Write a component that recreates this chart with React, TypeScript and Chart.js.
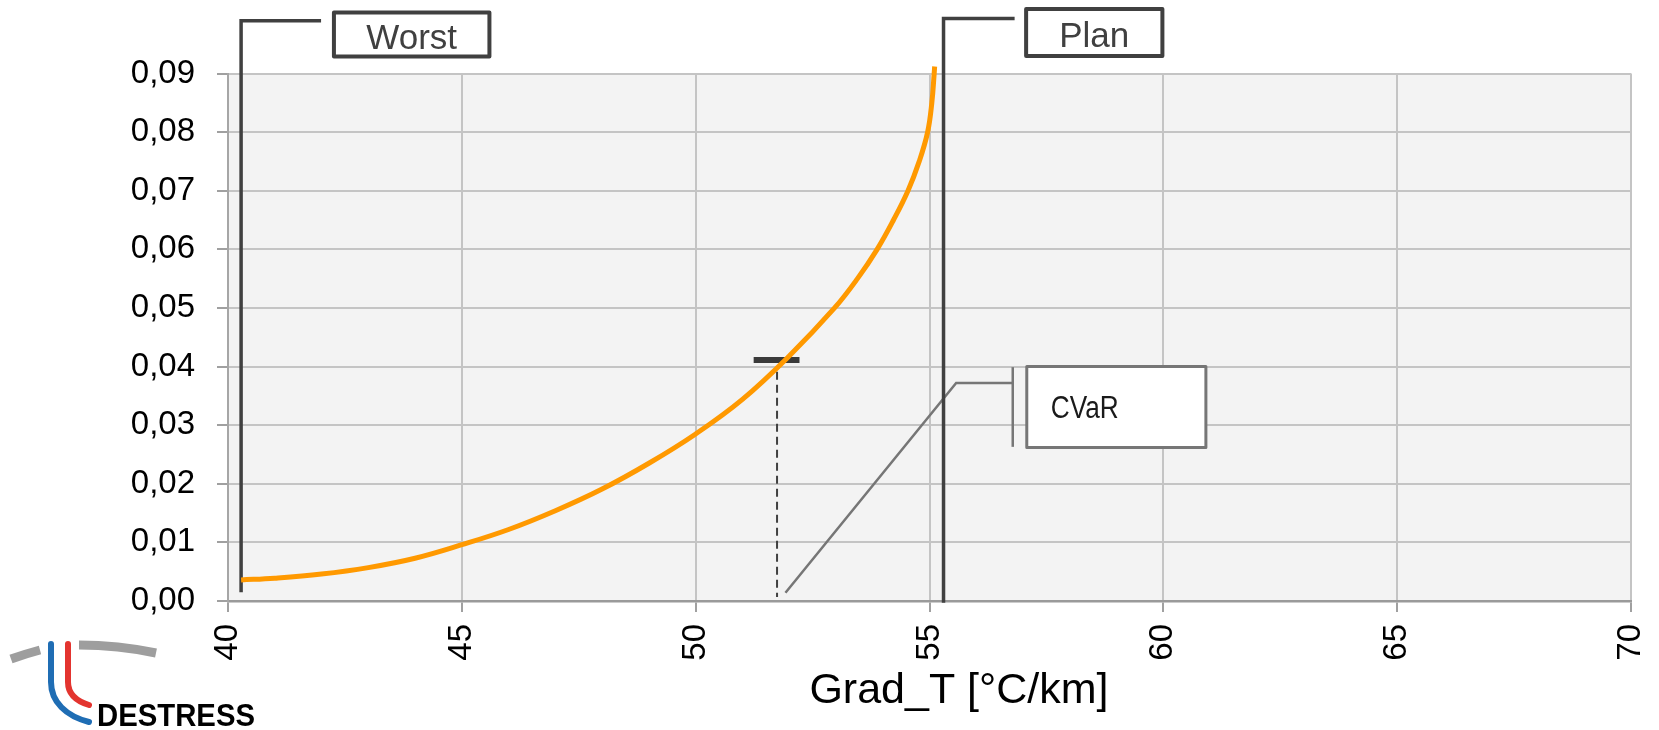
import React, { useEffect, useRef } from 'react';
import { Chart, registerables } from 'chart.js';

Chart.register(...registerables);

// ---- data ----
const gradT = [40.28, 41, 42, 43, 44, 45, 46, 47, 48, 49, 50, 51, 52, 52.97, 53.46, 53.88, 54.23, 54.54, 54.78, 54.96, 55.05, 55.1, 55.11];
const density = [0.0036, 0.0039, 0.0046, 0.0057, 0.0073, 0.0096, 0.0122, 0.0154, 0.0191, 0.0235, 0.0285, 0.0344, 0.0418, 0.05, 0.055, 0.06, 0.065, 0.07, 0.075, 0.08, 0.085, 0.09, 0.0912];

const xTicks = [40, 45, 50, 55, 60, 65, 70];
const yTicks = [0, 0.01, 0.02, 0.03, 0.04, 0.05, 0.06, 0.07, 0.08, 0.09];
const xTitle = 'Grad_T [°C/km]';

const worstX = [40.28, 40.28, 41.99];
const worstY = [0.0015, 0.099, 0.099];
const planX = [55.3, 55.3, 56.82];
const planY = [-0.0003, 0.0994, 0.0994];
const cvarBarX = [51.24, 52.22];
const cvarBarY = [0.0411, 0.0411];
const cvarDropX = [51.74, 51.74];
const cvarDropY = [0.0391, 0.0007];
const cvarLeaderX = [51.92, 55.57, 56.78];
const cvarLeaderY = [0.0014, 0.0372, 0.0372];
const cvarTickX = [56.78, 56.78];
const cvarTickY = [0.0263, 0.0399];

const labelTexts = ['Worst', 'Plan', 'CVaR'];
const labelX0 = [42.265, 57.066, 57.08];
const labelX1 = [45.59, 59.98, 60.91];
const labelYTop = [0.1004, 0.101, 0.04];
const labelYBottom = [0.0929, 0.093, 0.0262];

const FONT = '"Liberation Sans", Arial, sans-serif';

const pts = (xs: number[], ys: number[]) => xs.map((x, i) => ({ x, y: ys[i] }));

const labelStyles = [
  { border: '#404040', lw: 4, color: '#404040', size: 35, align: 'center', baseFromBottom: 7.5, pad: 0, maxW: 0 },
  { border: '#404040', lw: 4, color: '#404040', size: 35, align: 'center', baseFromBottom: 9.3, pad: 0, maxW: 0 },
  { border: '#767676', lw: 3, color: '#1a1a1a', size: 31, align: 'left', baseFromBottom: 29, pad: 24, maxW: 68 },
];

const decorPlugin = {
  id: 'decor',
  beforeDraw(chart: any) {
    const { ctx, chartArea } = chart;
    ctx.save();
    ctx.fillStyle = '#f3f3f3';
    ctx.fillRect(chartArea.left, chartArea.top, chartArea.right - chartArea.left, chartArea.bottom - chartArea.top);
    ctx.restore();
  },
  afterDraw(chart: any) {
    const { ctx, chartArea } = chart;
    const xs = chart.scales.x;
    const ys = chart.scales.y;
    ctx.save();
    // label boxes
    labelTexts.forEach((t, i) => {
      const st = labelStyles[i];
      const x0 = xs.getPixelForValue(labelX0[i]);
      const x1 = xs.getPixelForValue(labelX1[i]);
      const y0 = ys.getPixelForValue(labelYTop[i]);
      const y1 = ys.getPixelForValue(labelYBottom[i]);
      ctx.fillStyle = '#ffffff';
      ctx.fillRect(x0, y0, x1 - x0, y1 - y0);
      ctx.strokeStyle = st.border;
      ctx.lineWidth = st.lw;
      ctx.lineJoin = 'round';
      ctx.strokeRect(x0, y0, x1 - x0, y1 - y0);
      ctx.fillStyle = st.color;
      ctx.font = `${st.size}px ${FONT}`;
      ctx.textBaseline = 'alphabetic';
      ctx.textAlign = st.align;
      const tx = st.align === 'center' ? (x0 + x1) / 2 : x0 + st.pad;
      if (st.maxW) ctx.fillText(t, tx, y1 - st.baseFromBottom, st.maxW);
      else ctx.fillText(t, tx, y1 - st.baseFromBottom);
    });
    // axis title
    ctx.fillStyle = '#000';
    ctx.font = `43px ${FONT}`;
    ctx.textAlign = 'center';
    ctx.textBaseline = 'alphabetic';
    const cx = chartArea.left + (chartArea.right - chartArea.left) * 0.521;
    ctx.fillText(xTitle, cx, 703);
    // logo
    ctx.strokeStyle = '#9e9e9e';
    ctx.lineWidth = 9;
    ctx.lineCap = 'butt';
    ctx.beginPath(); ctx.moveTo(11, 659); ctx.quadraticCurveTo(25, 654, 40, 650); ctx.stroke();
    ctx.beginPath(); ctx.moveTo(79, 645); ctx.quadraticCurveTo(118, 645, 156, 653); ctx.stroke();
    ctx.lineWidth = 6;
    ctx.lineCap = 'round';
    ctx.strokeStyle = '#1f6db4';
    ctx.beginPath(); ctx.moveTo(51, 644); ctx.lineTo(51, 682); ctx.bezierCurveTo(51, 702, 66, 716, 89, 722); ctx.stroke();
    ctx.strokeStyle = '#e3342f';
    ctx.beginPath(); ctx.moveTo(68, 644); ctx.lineTo(68, 682); ctx.bezierCurveTo(68, 694, 76, 701, 89, 705); ctx.stroke();
    ctx.fillStyle = '#000';
    ctx.font = `bold 32px ${FONT}`;
    ctx.textAlign = 'left';
    ctx.fillText('DESTRESS', 97, 726, 158);
    ctx.restore();
  },
};

export default function App() {
  const ref = useRef<HTMLCanvasElement | null>(null);
  useEffect(() => {
    if (!ref.current) return;
    const line = (data: any, color: string, width: number, extra: any = {}) => ({
      data,
      showLine: true,
      borderColor: color,
      backgroundColor: color,
      borderWidth: width,
      pointRadius: 0,
      fill: false,
      clip: false,
      ...extra,
    });
    const chart = new Chart(ref.current, {
      type: 'scatter',
      data: {
        datasets: [
          line(pts(gradT, density), '#ff9900', 5, { tension: 0.4, borderCapStyle: 'butt', borderJoinStyle: 'round' }),
          line(pts(planX, planY), '#404040', 3.5),
          line(pts(worstX, worstY), '#404040', 3.5),
          line(pts(cvarBarX, cvarBarY), '#3a3a3a', 6),
          line(pts(cvarDropX, cvarDropY), '#404040', 2, { borderDash: [8, 5] }),
          line(pts(cvarLeaderX, cvarLeaderY), '#767676', 2.5),
          line(pts(cvarTickX, cvarTickY), '#767676', 2.5),
        ] as any,
      },
      options: {
        animation: false,
        responsive: false,
        devicePixelRatio: 1,
        layout: { padding: { top: 73.5, right: 28, left: 0, bottom: 0 } },
        plugins: { legend: { display: false }, tooltip: { enabled: false } },
        scales: {
          x: {
            type: 'linear',
            min: 40,
            max: 70,
            afterBuildTicks: (s: any) => { s.ticks = xTicks.map((v) => ({ value: v })); },
            afterFit: (s: any) => { s.height = 129; s.paddingLeft = 0; s.paddingRight = 0; },
            grid: { color: '#c4c4c4', lineWidth: 2, tickLength: 11, tickColor: '#a0a0a0', tickWidth: 2 },
            border: { color: '#9a9a9a', width: 2.5 },
            ticks: {
              minRotation: 90,
              maxRotation: 90,
              padding: 12,
              color: '#000',
              font: { family: FONT, size: 33 },
              callback: (v: any) => String(v),
            },
          },
          y: {
            type: 'linear',
            min: 0,
            max: 0.09,
            afterBuildTicks: (s: any) => { s.ticks = yTicks.map((v) => ({ value: v })); },
            afterFit: (s: any) => { s.width = 228; s.paddingTop = 0; s.paddingBottom = 0; },
            grid: { color: '#c4c4c4', lineWidth: 2, tickLength: 11, tickColor: '#a0a0a0', tickWidth: 2 },
            border: { color: '#a6a6a6', width: 2 },
            ticks: {
              padding: 22,
              color: '#000',
              font: { family: FONT, size: 33 },
              callback: (v: any) => Number(v).toFixed(2).replace('.', ','),
            },
          },
        },
      } as any,
      plugins: [decorPlugin],
    });
    return () => chart.destroy();
  }, []);
  return (
    <div style={{ position: 'fixed', left: 0, top: 0, width: 1659, height: 730, background: '#fff' }}>
      <canvas ref={ref} width={1659} height={730} style={{ display: 'block' }} />
    </div>
  );
}
